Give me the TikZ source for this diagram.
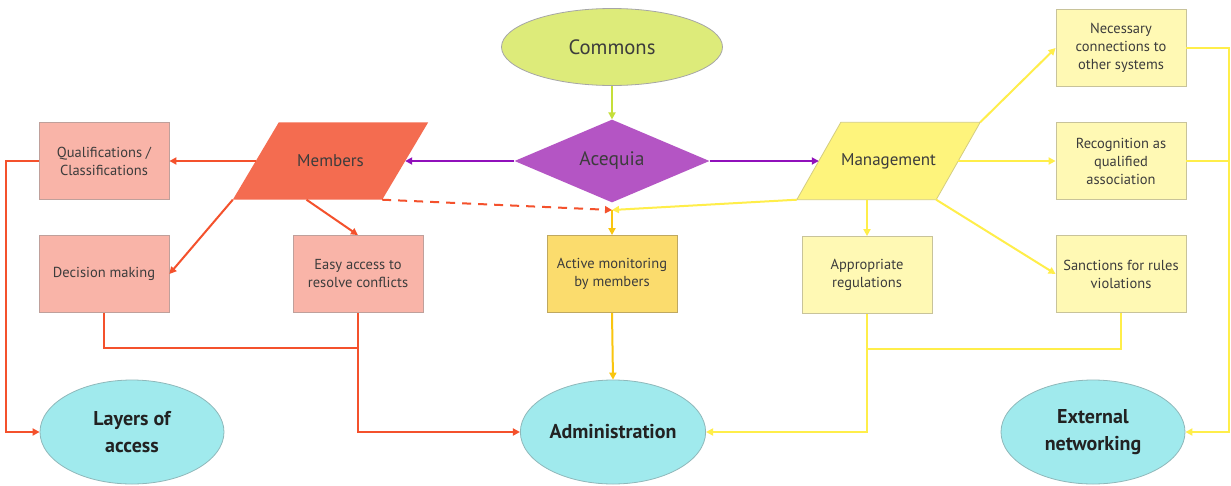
\documentclass[tikz,border=0pt]{standalone}
\usepackage{fontspec}
\setmainfont{PT Sans}
\usetikzlibrary{shapes.geometric,arrows.meta,calc}

\definecolor{txt}{HTML}{3C3C3C}
\definecolor{boldtxt}{HTML}{222222}
\definecolor{greenfill}{HTML}{DDEB7A}
\definecolor{greenline}{HTML}{C5DF3A}
\definecolor{purplefill}{HTML}{B455C4}
\definecolor{purpleline}{HTML}{9010BB}
\definecolor{redfill}{HTML}{F46C50}
\definecolor{redline}{HTML}{F4512C}
\definecolor{pinkfill}{HTML}{F9B4A8}
\definecolor{pinkdraw}{HTML}{BFA09B}
\definecolor{goldfill}{HTML}{FBDC6D}
\definecolor{golddraw}{HTML}{BFA860}
\definecolor{orangeline}{HTML}{F9C50F}
\definecolor{mgmtfill}{HTML}{FEF47C}
\definecolor{mgmtdraw}{HTML}{D4CD80}
\definecolor{paleyellow}{HTML}{FFF9B4}
\definecolor{paledraw}{HTML}{C8C39A}
\definecolor{yellowline}{HTML}{FFEE4A}
\definecolor{cyanfill}{HTML}{A0EAED}
\definecolor{cyandraw}{HTML}{8FB8BA}

\pgfdeclarelayer{background}
\pgfsetlayers{background,main}

\tikzset{
  every node/.style={text=txt, inner sep=2pt},
  box/.style={rectangle, minimum width=130pt, minimum height=77pt,
    align=center, font=\fontsize{14.5}{18}\selectfont, line width=0.8pt},
  pinkbox/.style={box, fill=pinkfill, draw=pinkdraw},
  goldbox/.style={box, fill=goldfill, draw=golddraw},
  palebox/.style={box, fill=paleyellow, draw=paledraw},
  slantcore/.style={rectangle, minimum height=77pt, inner sep=0pt,
    font=\fontsize{17}{20}\selectfont},
  goal/.style={ellipse, minimum width=184pt, minimum height=104pt, fill=cyanfill,
    draw=cyandraw, line width=0.8pt, align=center, text=boldtxt,
    font=\bfseries\fontsize{20}{27}\selectfont},
  conn/.style={line width=2pt},
  tip/.style={-{Triangle[length=7pt,width=7pt]}},
  greenarrow/.style={conn, tip, draw=greenline},
  purplearrow/.style={conn, tip, draw=purpleline},
  redline/.style={conn, draw=redline},
  redarrow/.style={redline, tip},
  yline/.style={conn, draw=yellowline},
  yarrow/.style={yline, tip},
  orangearrow/.style={conn, tip, draw=orangeline},
}

\begin{document}
\begin{tikzpicture}[x=1pt,y=-1pt]
\useasboundingbox (0,0) rectangle (1231,485);

% top of the flow
\node[ellipse, minimum width=221pt, minimum height=77pt, fill=greenfill,
  draw=black!35, line width=0.8pt, font=\fontsize{20.7}{24}\selectfont]
  (commons) at (612,47) {Commons};
\node[diamond, minimum width=195pt, minimum height=77pt, inner sep=0pt,
  fill=purplefill, font=\fontsize{19.5}{24}\selectfont]
  (acequia) at (612,161) {Acequia};

% the two branches: text cores, parallelograms drawn behind them
\node[slantcore, minimum width=149pt] (members) at (330.5,161) {Members};
\node[slantcore, minimum width=139pt] (mgmt) at (888.5,161) {Management};

\coordinate (members-bl) at ([xshift=-23pt]members.south west);
\coordinate (members-tl) at ([xshift=23pt]members.north west);
\coordinate (members-tr) at ([xshift=23pt]members.north east);
\coordinate (members-br) at ([xshift=-23pt]members.south east);
\coordinate (mgmt-bl) at ([xshift=-22pt]mgmt.south west);
\coordinate (mgmt-tl) at ([xshift=22pt]mgmt.north west);
\coordinate (mgmt-tr) at ([xshift=22pt]mgmt.north east);
\coordinate (mgmt-br) at ([xshift=-22pt]mgmt.south east);

\begin{pgfonlayer}{background}
  \fill[white] (0,0) rectangle (1231,485);
  \fill[redfill] (members-bl) -- (members-tl) -- (members-tr) -- (members-br) -- cycle;
  \filldraw[fill=mgmtfill, draw=mgmtdraw, line width=0.8pt]
    (mgmt-bl) -- (mgmt-tl) -- (mgmt-tr) -- (mgmt-br) -- cycle;
\end{pgfonlayer}

% member side boxes
\node[pinkbox] (qual) at (104,161) {Qualifications /\\Classifications};
\node[pinkbox] (decision) at (104,274) {Decision making};
\node[pinkbox] (easy) at (358,274) {Easy access to\\resolve conflicts};

% centre box
\node[goldbox] (monitor) at (612,274) {Active monitoring\\by members};

% management side boxes
\node[palebox] (regs) at (867,275) {Appropriate\\regulations};
\node[palebox] (connections) at (1121,48) {Necessary\\connections to\\other systems};
\node[palebox] (recognition) at (1121,161) {Recognition as\\qualified\\association};
\node[palebox] (sanctions) at (1121,274) {Sanctions for rules\\violations};

% outcomes
\node[goal] (layers) at (132,432) {Layers of\\access};
\node[goal] (admin) at (613,432) {Administration};
\node[goal] (external) at (1093,432) {External\\networking};

% meeting point above the monitoring box
\coordinate (meet) at (612,210);

% connectors
\draw[greenarrow] (commons.south) -- (acequia.north);
\draw[purplearrow] (acequia.west) -- (members.east);
\draw[purplearrow] (acequia.east) -- (mgmt.west);

\draw[redarrow] (members.west) -- (qual.east);
\draw[redarrow] (members-bl) -- (decision.east);
\draw[redarrow] ([xshift=-24pt]members.south) -- (easy.north);
\draw[redarrow, dash pattern=on 9pt off 7pt] (members-br) -- (meet);
\draw[yarrow] (mgmt-bl) -- (meet);
\draw[orangearrow] (meet) -- (monitor.north);

\draw[yarrow] (mgmt-tr) -- (connections.west);
\draw[yarrow] (mgmt.east) -- (recognition.west);
\draw[yarrow] (mgmt-br) -- (sanctions.west);
\draw[yarrow] (regs.north |- mgmt.south) -- (regs.north);

\draw[redarrow] (qual.west) -- ++(-33,0) |- (layers.west);
\draw[redline] (decision.south) -- ++(0,35) -| (easy.south);
\draw[redarrow] (easy.south) |- (admin.west);
\draw[orangearrow] (monitor.south) -- (admin.north);
\draw[yline] (sanctions.south) -- ++(0,36) -| (regs.south);
\draw[yarrow] (regs.south) |- (admin.east);
\draw[yline] (recognition.east) -- ++(43,0);
\draw[yarrow] (connections.east) -- ++(43,0) |- (external.east);
\end{tikzpicture}
\end{document}
